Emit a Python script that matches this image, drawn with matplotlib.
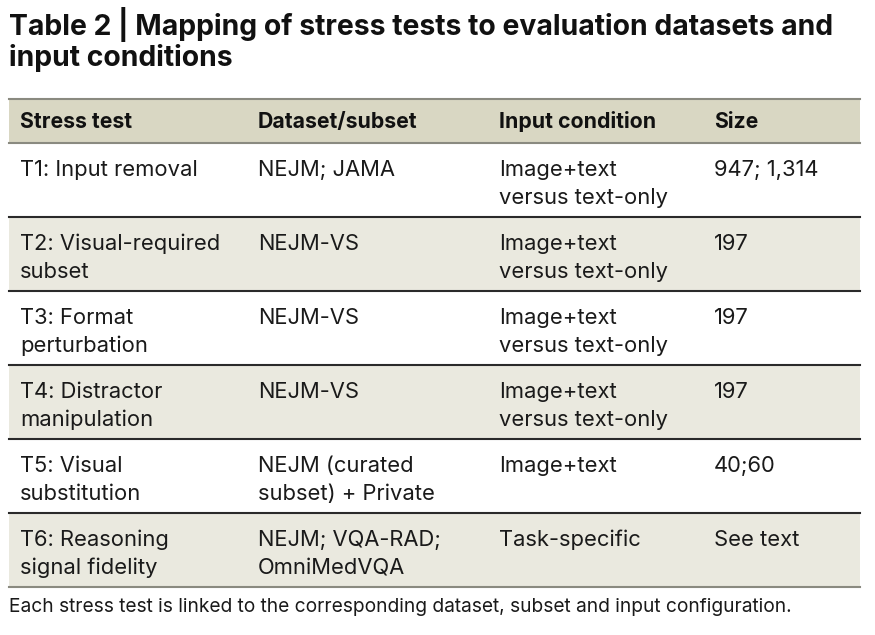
import matplotlib.pyplot as plt
from matplotlib.patches import Rectangle

plt.rcParams['font.family'] = ['Inter', 'DejaVu Sans']

# Table content
title_lines = ["Table 2 | Mapping of stress tests to evaluation datasets and",
               "input conditions"]
headers = ["Stress test", "Dataset/subset", "Input condition", "Size"]
stress_tests = ["T1: Input removal", "T2: Visual-required\nsubset", "T3: Format\nperturbation",
                "T4: Distractor\nmanipulation", "T5: Visual\nsubstitution", "T6: Reasoning\nsignal fidelity"]
datasets = ["NEJM; JAMA", "NEJM-VS", "NEJM-VS", "NEJM-VS",
            "NEJM (curated\nsubset) + Private", "NEJM; VQA-RAD;\nOmniMedVQA"]
conditions = ["Image+text\nversus text-only", "Image+text\nversus text-only",
              "Image+text\nversus text-only", "Image+text\nversus text-only",
              "Image+text", "Task-specific"]
sizes = ["947; 1,314", "197", "197", "197", "40;60", "See text"]
footnote = "Each stress test is linked to the corresponding dataset, subset and input configuration."

W, H = 875, 635
fig = plt.figure(figsize=(W / 100, H / 100), dpi=100)
ax = fig.add_axes([0, 0, 1, 1])
ax.set_xlim(0, W)
ax.set_ylim(H, 0)
ax.axis('off')

left, right = 9, 860
col_x = [20, 258, 499, 714]
head_top, head_h, row_h = 99, 44, 74
line_gap = 28
header_color = '#d9d7c3'
shade_color = '#eae9df'

# title
for i, line in enumerate(title_lines):
    ax.text(9, 25 + i * 33, line, fontsize=20.4, fontweight='bold', va='center', ha='left', color='#111111')

# header band
ax.add_patch(Rectangle((left, head_top), right - left, head_h, facecolor=header_color, edgecolor='none'))
ax.plot([left, right], [head_top, head_top], color='#8a8a80', lw=1.5)
for x, h in zip(col_x, headers):
    ax.text(x, head_top + head_h / 2 + 1, h, fontsize=15.3, fontweight='bold', va='center', ha='left',
            color='#111111')

# body rows
rows = list(zip(stress_tests, datasets, conditions, sizes))
for r, cells in enumerate(rows):
    top = head_top + head_h + r * row_h
    if r % 2 == 1:
        ax.add_patch(Rectangle((left, top), right - left, row_h, facecolor=shade_color, edgecolor='none'))
    for x, c in zip(col_x, cells):
        for k, part in enumerate(c.split('\n')):
            ax.text(x, top + 27 + k * line_gap, part, fontsize=15.8, va='center', ha='left',
                    color='#1a1a1a')

# row lines
n = len(rows)
for r in range(n + 1):
    y = head_top + head_h + r * row_h
    if r == 0 or r == n:
        ax.plot([left, right], [y, y], color='#8a8a80', lw=1.5)
    else:
        ax.plot([left, right], [y, y], color='#2a2a2a', lw=1.5)

ax.text(9, 607, footnote, fontsize=13.8, va='center', ha='left', color='#1a1a1a')

fig.savefig('out.png', dpi=100)
